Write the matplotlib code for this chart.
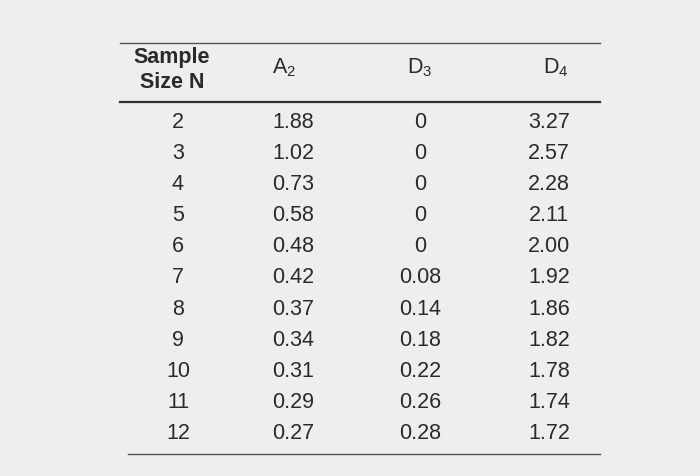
import matplotlib
matplotlib.use("Agg")
import matplotlib.pyplot as plt

plt.rcParams["font.family"] = ["Liberation Sans", "DejaVu Sans"]
plt.rcParams["mathtext.fontset"] = "custom"
plt.rcParams["mathtext.rm"] = "Liberation Sans"
plt.rcParams["mathtext.bf"] = "Liberation Sans:bold"

sample_size = [2, 3, 4, 5, 6, 7, 8, 9, 10, 11, 12]
a2 = ["1.88", "1.02", "0.73", "0.58", "0.48", "0.42", "0.37", "0.34", "0.31", "0.29", "0.27"]
d3 = ["0", "0", "0", "0", "0", "0.08", "0.14", "0.18", "0.22", "0.26", "0.28"]
d4 = ["3.27", "2.57", "2.28", "2.11", "2.00", "1.92", "1.86", "1.82", "1.78", "1.74", "1.72"]
headers = [r"$\mathrm{A_2}$", r"$\mathrm{D_3}$", r"$\mathrm{D_4}$"]

fig = plt.figure(figsize=(7, 4.77), dpi=100)
fig.patch.set_facecolor("#eeeeee")
ax = fig.add_axes([0, 0, 1, 1])
ax.set_xlim(0, 700)
ax.set_ylim(477, 0)
ax.axis("off")

txt = dict(color="#2a2a2a", fontsize=15.5, ha="center", va="center")

# rules
ax.plot([120, 600], [44, 44], color="#555555", lw=1)
ax.plot([120, 600], [103, 103], color="#333333", lw=1.6)
ax.plot([128, 600], [455, 455], color="#555555", lw=1)

# header
ax.text(172, 70, "Sample\nSize N", fontweight="bold", linespacing=1.2, **txt)
for x, h in zip([284, 420, 556], headers):
    ax.text(x, 68, h, **txt)

# body
for i, n in enumerate(sample_size):
    y = 122 + i * 31.2
    ax.text(178, y, str(n), **txt)
    ax.text(293, y, a2[i], **txt)
    ax.text(420, y, d3[i], **txt)
    ax.text(549, y, d4[i], **txt)

fig.savefig("out.png", dpi=100, facecolor=fig.get_facecolor())
